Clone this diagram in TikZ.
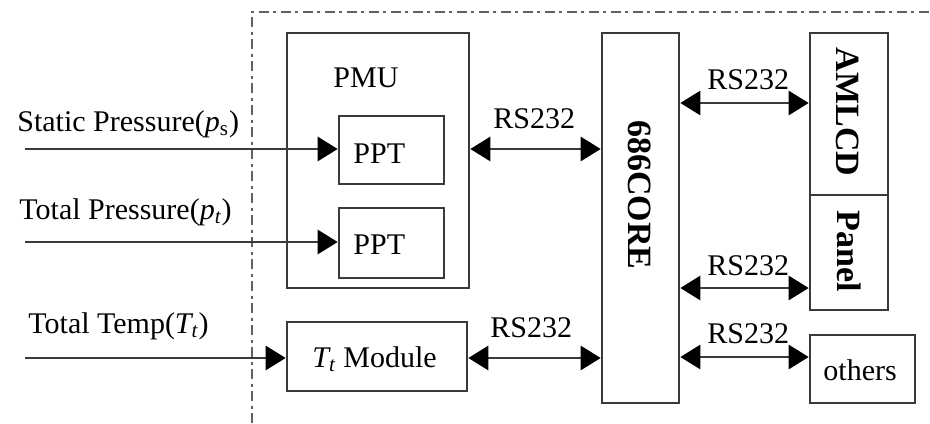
\documentclass[tikz,border=0pt]{standalone}
\usepackage{fontspec}
\setmainfont{Liberation Serif}
\usetikzlibrary{arrows.meta,fit}
\definecolor{ln}{HTML}{3A3A3A}
\tikzset{
  x=0.5pt, y=-0.5pt,
  box/.style={draw=ln, line width=1.3pt, inner sep=0pt, rectangle},
  txt/.style={inner sep=0pt, anchor=base west, font=\fontsize{15}{18}\selectfont},
  vtxt/.style={inner sep=0pt, rotate=-90, font=\fontsize{17}{20}\selectfont\bfseries},
  tip/.tip={Triangle[length=10pt,width=12pt,color=black,fill=black]},
  arr/.style={draw=ln, line width=1.4pt, -tip},
  darr/.style={draw=ln, line width=1.4pt, tip-tip},
  frame/.style={draw=ln!80, line width=1.2pt, dash pattern=on 5pt off 2pt on 1.5pt off 2.5pt}
}
\begin{document}
\begin{tikzpicture}
\useasboundingbox (0,0) rectangle (930,423);
% frame
\draw[frame] (252,423) -- (252,12) -- (930,12);
% boxes
\node[box, fit={(287,33) (469,288)}] (pmu) {};
\node[box, fit={(339,116) (444,184)}] (ppt1) {};
\node[box, fit={(339,208) (444,278)}] (ppt2) {};
\node[box, fit={(287,322) (467,391)}] (tmod) {};
\node[box, fit={(602,33) (679,403)}] (core) {};
\node[box, fit={(810,33) (888,195)}] (amlcd) {};
\node[box, fit={(810,195) (888,310)}] (panel) {};
\node[box, fit={(810,335) (915,403)}] (others) {};
% box texts
\node[txt] (tpmu) at (333,87) {PMU};
\node[txt] (tppt1) at (353,163) {PPT};
\node[txt] (tppt2) at (353,254) {PPT};
\node[txt] (ttmod) at (312,367) {\textit{T\textsubscript{t}} Module};
\node[txt] (tothers) at (823,380) {others};
\node[vtxt] (tcore) at (640,195) {686CORE};
\node[vtxt] (tamlcd) at (848,112) {AMLCD};
\node[vtxt] (tpanel) at (849,251) {Panel};
% input labels
\node[txt] (lps) at (17,131) {Static Pressure(\textit{p}\textsubscript{s})};
\node[txt] (lpt) at (19,219) {Total Pressure(\textit{p\textsubscript{t}})};
\node[txt] (ltt) at (28,333) {Total Temp(\textit{T\textsubscript{t}})};
% input arrows
\coordinate (in1) at (25,149);
\coordinate (in2) at (25,242);
\coordinate (in3) at (25,358);
\draw[arr] (in1) -- (in1 -| ppt1.west);
\draw[arr] (in2) -- (in2 -| ppt2.west);
\draw[arr] (in3) -- (in3 -| tmod.west);
% bus arrows
\coordinate (ya) at (0,149);
\coordinate (yb) at (0,103);
\coordinate (yc) at (0,288);
\coordinate (yd) at (0,357);
\coordinate (ye) at (0,358);
\draw[darr] (pmu.east |- ya) -- (core.west |- ya);
\draw[darr] (core.east |- yb) -- (amlcd.west |- yb);
\draw[darr] (core.east |- yc) -- (panel.west |- yc);
\draw[darr] (core.east |- yd) -- (others.west |- yd);
\draw[darr] (tmod.east |- ye) -- (core.west |- ye);
% RS232 labels
\node[txt] (r1) at (493,128) {RS232};
\node[txt] (r2) at (707,89) {RS232};
\node[txt] (r3) at (707,275) {RS232};
\node[txt] (r4) at (707,343) {RS232};
\node[txt] (r5) at (490,337) {RS232};
\end{tikzpicture}
\end{document}
